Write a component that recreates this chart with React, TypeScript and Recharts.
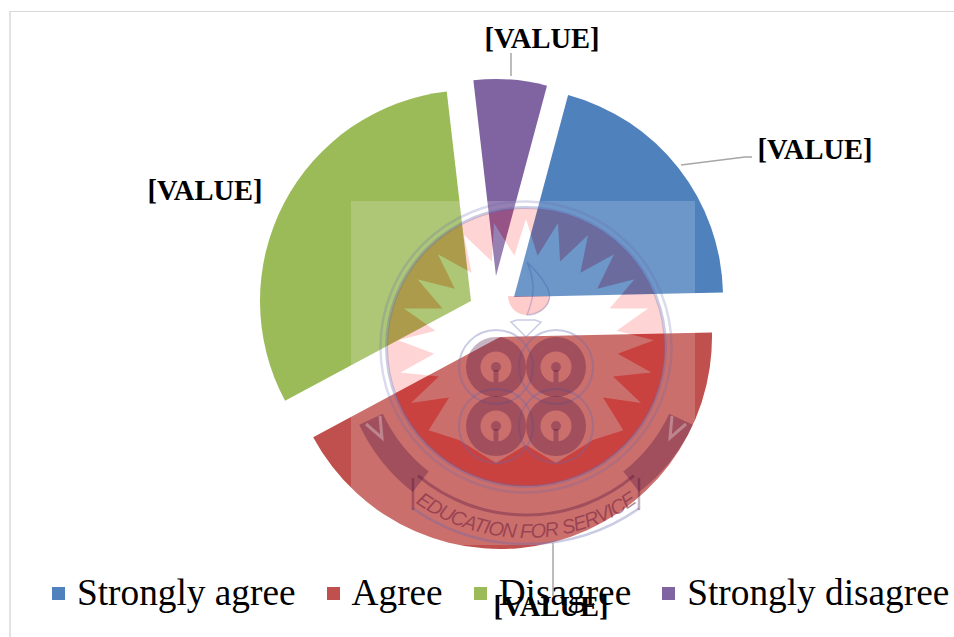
import { PieChart, Pie, Cell, Legend, Sector } from 'recharts'

const CATEGORIES = ['Strongly agree', 'Agree', 'Disagree', 'Strongly disagree']
const VALUES = [20.5, 42.5, 31, 6]
const VALUE_LABEL = '[VALUE]'
const COLORS = ['#4F81BD', '#C0504D', '#9BBB59', '#8064A2']

const PIE_DATA = CATEGORIES.map((name, i) => ({ name, value: VALUES[i] }))

// each slice was pulled out by hand in the original, so offsets differ per slice
const EXPLODE = [
  { dx: 21, dy: -3, trim: 2 },
  { dx: 7, dy: 37, trim: -1 },
  { dx: -22, dy: 1, trim: 0 },
  { dx: 3, dy: -24, trim: 14 },
]
const LABEL_POS = [
  { x: 815, y: 159 },
  { x: 551, y: 616 },
  { x: 205, y: 200 },
  { x: 542, y: 48 },
]
const LEADERS = ['681,165 745,157 752,157', '553,543 553,596', '', '511,53 511,76']

const SERIF = '"Liberation Serif", "Times New Roman", serif'

function ExplodedSlice(props: any) {
  const { dx, dy, trim } = EXPLODE[props.index] ?? { dx: 0, dy: 0, trim: 0 }
  return (
    <Sector
      cx={props.cx + dx}
      cy={props.cy + dy}
      innerRadius={0}
      outerRadius={props.outerRadius - trim}
      startAngle={props.startAngle}
      endAngle={props.endAngle}
      fill={COLORS[props.index]}
      stroke="none"
    />
  )
}

function SliceLabel(props: any) {
  const pos = LABEL_POS[props.index]
  return (
    <text x={pos.x} y={pos.y} textAnchor="middle" fontFamily={SERIF} fontWeight="bold" fontSize={28.5} fill="#000">
      {VALUE_LABEL}
    </text>
  )
}

function SliceLeader(props: any) {
  const points = LEADERS[props.index]
  if (!points) return <g />
  return <polyline points={points} fill="none" stroke="#A6A6A6" strokeWidth={1.5} />
}

function LegendRow({ payload }: any) {
  return (
    <div style={{ display: 'flex', gap: 31, fontFamily: SERIF, fontSize: 37.3, lineHeight: '42px', color: '#000', whiteSpace: 'nowrap' }}>
      {(payload ?? []).map((entry: any, i: number) => (
        <div key={entry.value} style={{ display: 'flex', alignItems: 'center', gap: 12 }}>
          <span style={{ width: 13, height: 13, background: COLORS[i], display: 'inline-block', marginTop: 1 }} />
          <span>{entry.value}</span>
        </div>
      ))}
    </div>
  )
}

// school crest watermark sitting on top of the chart
const CX = 526
const CY = 347

function polar(r: number, deg: number) {
  const a = (deg * Math.PI) / 180
  return [CX + r * Math.sin(a), CY - r * Math.cos(a)]
}

function starPath() {
  const pts: string[] = ['459,440', '496,463', '526,445', '556,463', '593,440']
  // walks the burst from lower right, over the top, to lower left
  for (let i = 9; i >= -9; i--) {
    const tip = i * 14.5
    const [tx, ty] = polar(128, tip)
    pts.push(`${tx},${ty}`)
    if (i > -9) {
      const [vx, vy] = polar(92, tip - 7.25)
      pts.push(`${vx},${vy}`)
    }
  }
  return 'M' + pts.join('L') + 'Z'
}

function circlePath(r: number, x = CX, y = CY) {
  return `M${x - r},${y}a${r},${r} 0 1,0 ${2 * r},0a${r},${r} 0 1,0 ${-2 * r},0Z`
}

function arc(r: number, from: number, to: number) {
  const [x1, y1] = polar(r, from)
  const [x2, y2] = polar(r, to)
  return `M${x1},${y1}A${r},${r} 0 0,1 ${x2},${y2}`
}

function arcBack(r: number, from: number, to: number) {
  const [x1, y1] = polar(r, from)
  const [x2, y2] = polar(r, to)
  return `M${x1},${y1}A${r},${r} 0 0,0 ${x2},${y2}`
}

const LOBES = [
  [496, 367],
  [556, 367],
  [496, 426],
  [556, 426],
]

function Crest() {
  const line = 'rgba(100,105,175,0.34)'
  const dark = 'rgba(66,6,56,0.3)'
  const star = starPath()
  return (
    <svg width={954} height={637} style={{ position: 'absolute', left: 0, top: 0 }}>
      <defs>
        <path id="motto" d={arcBack(191, 222, 138)} />
      </defs>
      <path d={`M351,201H695V545H351Z${circlePath(139)}`} fillRule="evenodd" fill="rgba(255,255,255,0.18)" />
      <path d={star} fill="rgba(255,255,255,0.18)" />
      <path d={circlePath(139) + star} fillRule="evenodd" fill="rgba(255,0,0,0.17)" />
      <circle cx={CX} cy={CY} r={145.5} fill="none" stroke="rgba(100,105,175,0.24)" strokeWidth={2.5} />
      <circle cx={CX} cy={CY} r={139.5} fill="none" stroke={line} strokeWidth={3} />
      <path d="M508,296C509,310 519,315 527,315C537,315 550,308 550,296Z" fill="rgba(255,0,0,0.2)" />
      <path d="M527,262C545,280 552,292 549,300C546,310 535,315 527,315C533,300 537,285 527,262Z" fill="none" stroke="rgba(30,60,150,0.22)" strokeWidth={1.5} />
      <path d="M511,322L517,320H535L541,322L526,337Z" fill="none" stroke={line} strokeWidth={1.5} />
      {LOBES.map(([x, y]) => (
        <circle key={`o${x}${y}`} cx={x} cy={y} r={37} fill="none" stroke={line} strokeWidth={2} />
      ))}
      {LOBES.map(([x, y]) => (
        <g key={`f${x}${y}`}>
          <path d={circlePath(30, x, y) + circlePath(15.5, x, y)} fillRule="evenodd" fill={dark} />
          <circle cx={x} cy={y} r={5} fill={dark} />
          <rect x={x - 2.5} y={y + 3} width={5} height={12.5} fill={dark} />
        </g>
      ))}
      <path d={arc(171, 218, 245)} fill="none" stroke={dark} strokeWidth={26} />
      <path d={arc(171, 115, 142)} fill="none" stroke={dark} strokeWidth={26} />
      <path d="M366,424L382,438L380,416" fill="none" stroke="rgba(255,255,255,0.3)" strokeWidth={3} />
      <path d="M686,424L670,438L672,416" fill="none" stroke="rgba(255,255,255,0.3)" strokeWidth={3} />
      <path d={arcBack(168, 220, 140)} fill="none" stroke={dark} strokeWidth={3} />
      <path d={arcBack(197, 215, 145)} fill="none" stroke={line} strokeWidth={2.5} />
      <path d="M413,478V510M639,478V510" fill="none" stroke={dark} strokeWidth={2.5} />
      <text fontFamily="'Liberation Sans', sans-serif" fontSize={20} fontStyle="italic" fill="rgba(110,30,60,0.55)" letterSpacing={-1}>
        <textPath href="#motto" startOffset="50%" textAnchor="middle">
          EDUCATION FOR SERVICE
        </textPath>
      </text>
    </svg>
  )
}

export default function App() {
  return (
    <div style={{ position: 'absolute', left: 0, top: 0, width: 954, height: 637, overflow: 'hidden', background: '#fff' }}>
      <div style={{ position: 'absolute', left: 9, top: 11, width: 945, height: 626, borderTop: '1px solid #D9D9D9', borderLeft: '2px solid #E2E2E2' }} />
      <div style={{ position: 'absolute', left: 0, top: 0 }}>
        <PieChart width={954} height={637} margin={{ top: 0, right: 0, bottom: 0, left: 0 }}>
          <Pie
            data={PIE_DATA}
            dataKey="value"
            nameKey="name"
            cx={493}
            cy={300}
            outerRadius={211}
            startAngle={75}
            endAngle={-285}
            stroke="none"
            shape={ExplodedSlice}
            label={SliceLabel}
            labelLine={SliceLeader}
            isAnimationActive={false}
          >
            {PIE_DATA.map((d, i) => (
              <Cell key={d.name} fill={COLORS[i]} />
            ))}
          </Pie>
          <Legend content={LegendRow} itemSorter={null} wrapperStyle={{ left: 52, top: 572, width: 900, height: 42 }} />
        </PieChart>
      </div>
      <Crest />
    </div>
  )
}
